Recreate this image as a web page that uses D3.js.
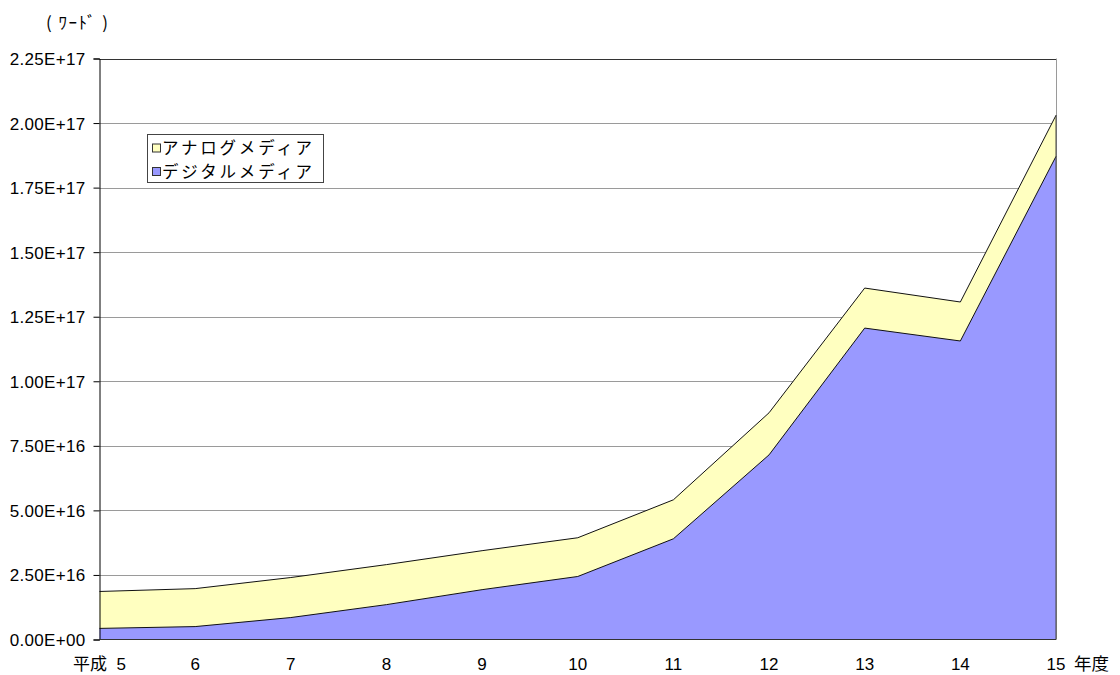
<!DOCTYPE html>
<html><head><meta charset="utf-8">
<script src="https://cdn.jsdelivr.net/npm/d3@7"></script>
<style>body{margin:0;background:#fff}svg{display:block}</style>
</head><body>
<svg id="c" width="1120" height="675"></svg>
<script>
const categories = ["5","6","7","8","9","10","11","12","13","14","15"];
const digital = [4.3e15, 5.0e15, 8.5e15, 1.35e16, 1.93e16, 2.44e16, 3.90e16, 7.15e16, 1.206e17, 1.156e17, 1.871e17];
const analog  = [1.43e16, 1.47e16, 1.55e16, 1.55e16, 1.51e16, 1.50e16, 1.51e16, 1.63e16, 1.55e16, 1.51e16, 1.59e16];
const yTicks = [0, 2.5e16, 5e16, 7.5e16, 1e17, 1.25e17, 1.5e17, 1.75e17, 2e17, 2.25e17];
const seriesNames = ["アナログメディア", "デジタルメディア"];
const colors = {analog: "#FFFFC0", digital: "#9999FF"};

const svg = d3.select("#c");
const L = 99.5, R = 1056, T = 58.5, B = 639.5;
const x = d3.scalePoint().domain(categories).range([L, R]);
const y = d3.scaleLinear().domain([0, 2.25e17]).range([B, T]);

const fmt = v => {
  if (v === 0) return "0.00E+00";
  const e = Math.floor(Math.log10(v));
  const m = v / Math.pow(10, e);
  return m.toFixed(2) + "E+" + e;
};

svg.append("g").selectAll("line").data(yTicks.filter(d => d > 0)).join("line")
  .attr("x1", L).attr("x2", R).attr("y1", d => Math.round(y(d)) + 0.5).attr("y2", d => Math.round(y(d)) + 0.5)
  .attr("stroke", d => d === 2.25e17 ? "#333" : "#9a9a9a").attr("stroke-width", 1);
svg.append("line").attr("x1", R + 0.5).attr("x2", R + 0.5).attr("y1", T).attr("y2", B).attr("stroke", "#9a9a9a");

const data = categories.map((c, i) => ({c, d: digital[i], t: digital[i] + analog[i]}));

const areaTotal = d3.area().x(d => x(d.c)).y0(d => y(d.d)).y1(d => y(d.t));
const areaDig = d3.area().x(d => x(d.c)).y0(y(0)).y1(d => y(d.d));
svg.append("path").datum(data).attr("d", areaTotal).attr("fill", colors.analog);
svg.append("path").datum(data).attr("d", areaDig).attr("fill", colors.digital);
svg.append("path").datum(data).attr("d", d3.line().x(d => x(d.c)).y(d => y(d.t)))
  .attr("fill", "none").attr("stroke", "#111").attr("stroke-width", 1);
svg.append("path").datum(data).attr("d", d3.line().x(d => x(d.c)).y(d => y(d.d)))
  .attr("fill", "none").attr("stroke", "#111").attr("stroke-width", 1);
svg.append("line").attr("x1", R).attr("x2", R).attr("y1", y(data[10].t)).attr("y2", B).attr("stroke", "#444");

const yAxis = d3.axisLeft(y).tickValues(yTicks).tickFormat(fmt).tickSize(6).tickPadding(8);
const ga = svg.append("g").attr("transform", `translate(${L},0)`).call(yAxis);
ga.select(".domain").attr("stroke", "#000");
ga.selectAll(".tick line").attr("stroke", "#000");
ga.selectAll("text").attr("font-family", "Liberation Sans, Arial, sans-serif").attr("font-size", 17)
  .attr("letter-spacing", 0.3).attr("fill", "#000").attr("dy", "0.35em");

svg.append("line").attr("x1", L).attr("x2", R).attr("y1", B).attr("y2", B).attr("stroke", "#333");

svg.append("g").selectAll("text").data(categories).join("text")
  .attr("x", d => x(d)).attr("y", 670).attr("text-anchor", "middle")
  .attr("font-family", "Liberation Sans, 'Noto Sans CJK JP', sans-serif").attr("font-size", 17)
  .attr("xml:space", "preserve")
  .text((d, i) => i === 0 ? "平成  " + d : d);
svg.append("text").attr("x", 1074).attr("y", 670).attr("font-family", "'Noto Sans CJK JP', sans-serif")
  .attr("font-size", 17.5).text("年度");

svg.append("text").attr("x", 46).attr("y", 29).attr("font-family", "'Noto Sans CJK JP', sans-serif")
  .attr("font-size", 17).attr("letter-spacing", 1.5).text("( ﾜｰﾄﾞ )");

const lg = svg.append("g");
lg.append("rect").attr("x", 147.5).attr("y", 134.5).attr("width", 176).attr("height", 48)
  .attr("fill", "#fff").attr("stroke", "#444");
const items = [{n: seriesNames[0], c: colors.analog}, {n: seriesNames[1], c: colors.digital}];
items.forEach((it, i) => {
  const cy = 148.5 + i * 23.5;
  lg.append("rect").attr("x", 152.5).attr("y", cy - 4.5).attr("width", 8).attr("height", 8)
    .attr("fill", it.c).attr("stroke", "#333");
  lg.append("text").attr("x", 162).attr("y", cy).attr("dy", "0.36em")
    .attr("font-family", "'Noto Sans CJK JP', sans-serif").attr("font-size", 16.5)
    .attr("letter-spacing", 2.8).text(it.n);
});
</script>
</body></html>
